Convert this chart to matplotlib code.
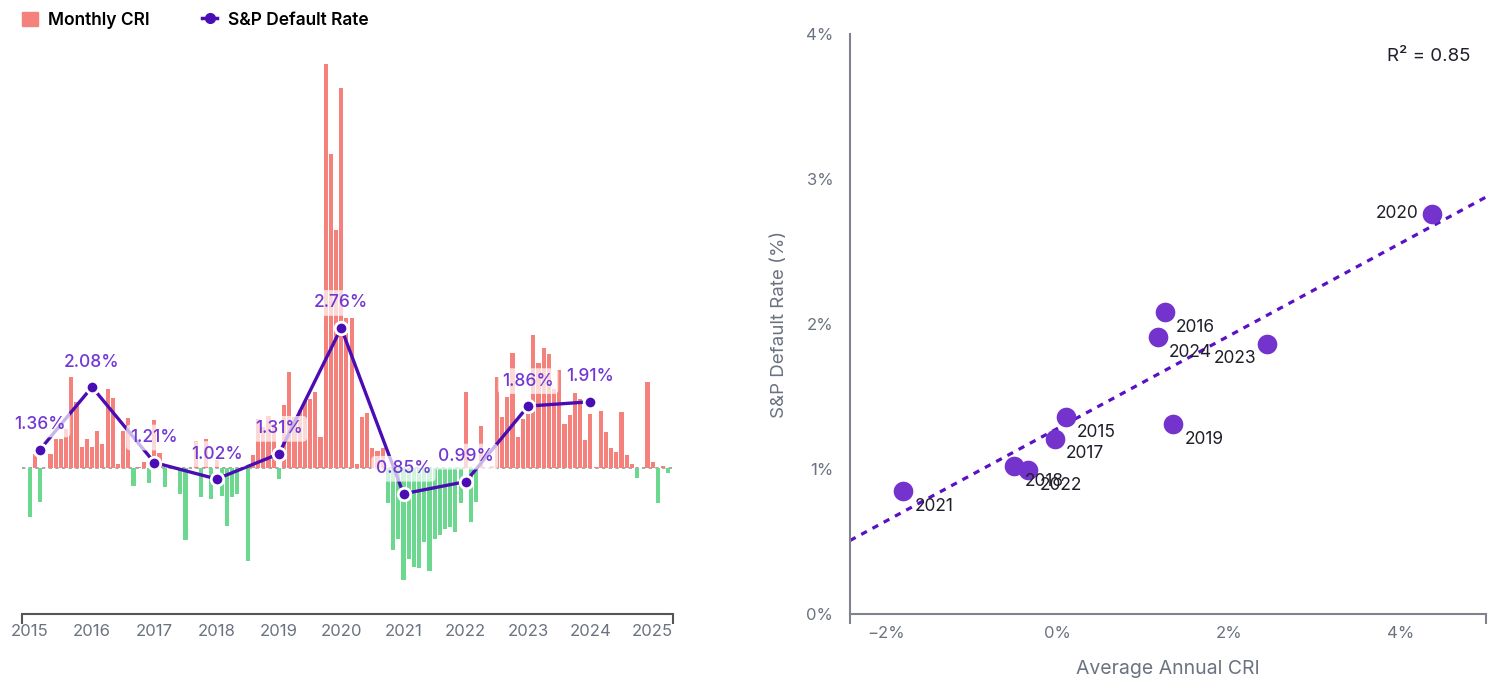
import numpy as np
import pandas as pd
import matplotlib
matplotlib.use("Agg")
import matplotlib.pyplot as plt
from matplotlib.patches import Patch
from matplotlib.lines import Line2D

plt.rcParams["font.family"] = ["Inter", "DejaVu Sans"]

# --- data ---
CRI_START = "2015-01"
monthly_cri = [
    -1.40, 0.40, -0.97, 0.00, 0.40, 0.83, 0.83, 1.11, 2.60, 1.89, 0.60, 0.83,
    0.60, 1.06, 0.69, 2.26, 2.00, 0.11, 1.06, 1.43, -0.51, 0.03, 0.17, -0.43,
    1.37, 0.43, -0.54, 0.03, 0.00, -0.74, -2.06, 0.00, 0.77, -0.83, 0.83, -0.89,
    0.23, -0.80, -1.66, -0.83, -0.74, 0.00, -2.66, 0.37, 1.40, 1.17, 1.49, 1.26,
    -0.31, 1.80, 2.74, 1.46, 1.66, 1.91, 1.97, 2.17, 0.89, 11.54, 8.97, 6.80,
    10.86, 4.29, 4.29, 0.11, 1.46, 1.57, 0.57, 0.49, 0.57, -1.00, -2.34, -2.03,
    -3.20, -2.60, -2.83, -2.86, -2.11, -2.94, -2.03, -1.91, -1.74, -1.69, -1.83, -1.00,
    2.17, -1.54, -0.97, 1.20, 0.00, 0.06, 2.60, 1.46, 2.03, 3.29, 0.89, 1.40,
    1.89, 3.80, 3.00, 3.43, 3.26, 2.26, 2.80, 1.26, 1.51, 2.14, 1.97, 0.80,
    1.54, 0.03, 1.63, 1.03, 0.57, 0.46, 1.60, 0.37, 0.11, -0.29, 0.00, 2.46,
    0.17, -1.00, 0.06, -0.14,
]

dr_dates = ["2015-03", "2016-01", "2017-01", "2018-01", "2019-01",
            "2020-01", "2021-01", "2022-01", "2023-01", "2024-01"]
dr_values = [1.36, 2.08, 1.21, 1.02, 1.31, 2.76, 0.85, 0.99, 1.86, 1.91]

year_ticks = list(range(2015, 2026))

scatter_years = ["2015", "2016", "2017", "2018", "2019",
                 "2020", "2021", "2022", "2023", "2024"]
scatter_cri = [0.10, 1.25, -0.03, -0.51, 1.35, 4.37, -1.80, -0.34, 2.45, 1.17]
scatter_dr = [1.36, 2.08, 1.21, 1.02, 1.31, 2.76, 0.85, 0.99, 1.86, 1.91]

# colours
RED = "#f4817c"
GREEN = "#6cd78f"
LINE = "#4a0db5"
LABEL = "#7238d4"
DOT = "#7433cc"
GREY = "#6b7280"


def frac_year(d):
    return d.year + (d.month - 1) / 12


months = pd.date_range(CRI_START, periods=len(monthly_cri), freq="MS")
mx = np.array([frac_year(d) for d in months])
cri = np.array(monthly_cri)
dx = np.array([frac_year(pd.Timestamp(d)) for d in dr_dates])

fig = plt.figure(figsize=(15.07, 6.88), dpi=100)

# --- left: monthly CRI bars + default rate line ---
ax = fig.add_axes([22 / 1507, 74 / 688, 651 / 1507, 554 / 688])
colors = [RED if v >= 0 else GREEN for v in cri]
ax.bar(mx, cri, width=0.8 / 12, color=colors, zorder=2)
ax.axhline(0, color="#9a9a9a", lw=1.2, ls=(0, (2, 2)), zorder=1)
ax.set_xlim(2014.876, 2025.326)
ax.set_ylim(-4.17, 11.66)
ax.set_yticks([])
for s in ["top", "right", "left"]:
    ax.spines[s].set_visible(False)
ax.spines["bottom"].set_color("#555555")
ax.spines["bottom"].set_linewidth(1.5)
ax.set_xticks(year_ticks)
ax.set_xticklabels([str(y) for y in year_ticks])
ax.set_xticks(ax.get_xlim(), minor=True)
ax.tick_params(axis="x", which="major", length=0, pad=7, labelsize=12, labelcolor=GREY)
ax.tick_params(axis="x", which="minor", length=7, width=1.5, color="#555555")

ax2 = ax.twinx()
ax2.set_ylim(-0.535, 5.847)
ax2.set_yticks([])
for s in ax2.spines.values():
    s.set_visible(False)
ax2.plot(dx, dr_values, color=LINE, lw=2.4, zorder=3)
ax2.plot(dx, dr_values, "o", ms=9, color=LINE, mec="white", mew=2, zorder=4)
for x, v in zip(dx, dr_values):
    ax2.annotate(f"{v:.2f}%", (x, v), xytext=(0, 18), textcoords="offset points",
                 ha="center", va="center", fontsize=12.5, fontweight="medium",
                 color=LABEL, zorder=5,
                 bbox=dict(boxstyle="round,pad=0.25", fc="white", ec="none", alpha=0.7))

handles = [Patch(color=RED),
           Line2D([0], [0], color=LINE, lw=2.5, marker="o", ms=7)]
fig.legend(handles, ["Monthly CRI", "S&P Default Rate"], loc="upper left",
           bbox_to_anchor=(0.0146, 0.983), ncol=2, frameon=False, borderpad=0,
           borderaxespad=0, handlelength=0.9, handleheight=0.9, handletextpad=0.6,
           columnspacing=3.0, prop=dict(size=12.5, weight="semibold"))

# --- right: scatter of annual CRI vs default rate ---
bx = fig.add_axes([850 / 1507, 74 / 688, 636 / 1507, 580 / 688])
bx.set_xlim(-2.42, 5.0)
bx.set_ylim(0, 4)
sx = np.array(scatter_cri)
sy = np.array(scatter_dr)
slope, icpt = np.polyfit(sx, sy, 1)
r2 = np.corrcoef(sx, sy)[0, 1] ** 2
xl = np.array(bx.get_xlim())
bx.plot(xl, icpt + slope * xl, color="#5a10c4", lw=2.3, ls=(0, (2, 2)), zorder=2)
bx.scatter(sx, sy, s=200, color=DOT, zorder=3, linewidths=0)
for name, x, y in zip(scatter_years, sx, sy):
    if name == "2020":
        off, ha, va = (-10, 0), "right", "center"
    elif name == "2023":
        off, ha, va = (-8, -10), "right", "center"
    else:
        off, ha, va = (8, -11), "left", "center"
    bx.annotate(name, (x, y), xytext=off, textcoords="offset points",
                ha=ha, va=va, fontsize=12.5, color="#1f1f2b", zorder=4)
bx.text(0.975, 0.962, f"R² = {r2:.2f}", transform=bx.transAxes,
        ha="right", va="center", fontsize=13.5, color="#1f1f2b")

for s in ["top", "right"]:
    bx.spines[s].set_visible(False)
for s in ["left", "bottom"]:
    bx.spines[s].set_color("#80838d")
    bx.spines[s].set_linewidth(1.5)
bx.set_xticks([-2, 0, 2, 4])
bx.set_xticklabels(["−2%", "0%", "2%", "4%"])
bx.set_yticks([0, 1, 2, 3, 4])
bx.set_yticklabels(["0%", "1%", "2%", "3%", "4%"])
bx.set_xticks(bx.get_xlim(), minor=True)
bx.set_yticks(bx.get_ylim(), minor=True)
bx.tick_params(which="major", length=0, labelsize=12, labelcolor=GREY)
bx.tick_params(axis="x", which="major", pad=9)
bx.tick_params(axis="y", which="major", pad=12)
bx.tick_params(which="minor", length=7, width=1.5, color="#80838d")
bx.set_xlabel("Average Annual CRI", fontsize=14, color=GREY)
bx.set_ylabel("S&P Default Rate (%)", fontsize=13.5, color=GREY)
bx.xaxis.set_label_coords(0.5, -0.08)
bx.yaxis.set_label_coords(-0.098, 0.5)

fig.savefig("out.png", dpi=100)
